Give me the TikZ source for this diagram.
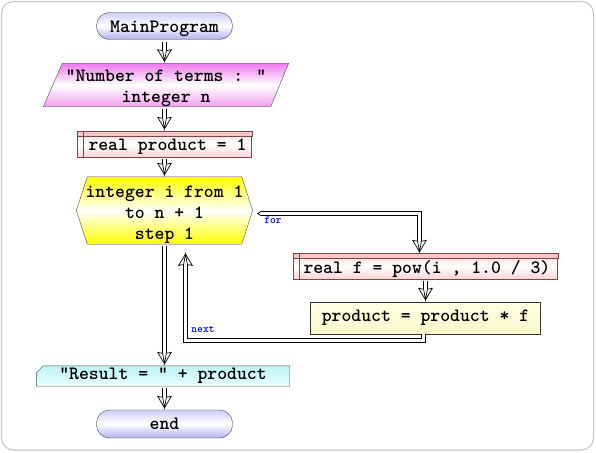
\documentclass[tikz,border=0pt]{standalone}
\usepackage{fontspec}
\usetikzlibrary{arrows.meta,calc,decorations.markings}
\pgfdeclarelayer{bg}
\pgfsetlayers{bg,main}
\definecolor{termA}{RGB}{205,205,250}
\definecolor{termB}{RGB}{175,175,240}
\definecolor{magA}{RGB}{238,120,238}
\definecolor{magB}{RGB}{240,160,240}
\definecolor{yel}{RGB}{255,255,0}
\definecolor{pinkA}{RGB}{252,212,212}
\definecolor{pinkS}{RGB}{248,196,196}
\definecolor{declB}{RGB}{130,70,70}
\definecolor{asgA}{RGB}{255,255,228}
\definecolor{asgB}{RGB}{250,250,205}
\definecolor{cyA}{RGB}{190,243,243}
\definecolor{cyB}{RGB}{232,255,255}
\definecolor{frameC}{RGB}{200,200,200}
\newcommand\mf{\ttfamily\bfseries}
\newcommand\hhead{%
  \fill[white] (-10.5pt,1.85pt) -- (-11.5pt,6.8pt) -- (0pt,0pt) -- (-11.5pt,-6.8pt) -- (-10.5pt,-1.85pt) -- cycle;
  \draw[black, line width=0.7pt, line join=miter]
    (-10.5pt,1.85pt) -- (-11.5pt,6.8pt) -- (0pt,0pt) -- (-11.5pt,-6.8pt) -- (-10.5pt,-1.85pt);
  \draw[black, line width=0.7pt] (-10.5pt,1.85pt) -- (0pt,0pt) -- (-10.5pt,-1.85pt);}
\newcommand\hcap{%
  \fill[white] (3.5pt,2.2pt) -- (0pt,0pt) -- (3.5pt,-2.2pt) -- cycle;
  \draw[black, line width=0.7pt] (3.5pt,2.2pt) -- (0pt,0pt) -- (3.5pt,-2.2pt);}
\tikzset{
  txt/.style={font=\mf\fontsize{18.8}{21}\selectfont, inner sep=0pt, align=center},
  term/.style={draw=black!75, rounded corners=13pt, top color=termA, bottom color=termB, middle color=white},
  decl/.style={draw=declB, inner sep=0pt, minimum height=26pt, top color=pinkA, bottom color=pinkA, middle color=white},
  conn/.style 2 args={
    preaction={draw=black, line width=4.4pt, line join=miter, shorten <=#1, shorten >=#2+9pt},
    postaction={draw=white, line width=3pt, line join=miter, shorten <=#1, shorten >=#2+9pt},
    postaction={decorate, decoration={markings, mark=at position -#2 with {\hhead}}}},
  capmark/.style={postaction={decorate, decoration={markings, mark=at position 0pt with {\hcap}}}},
  lbl/.style={font=\mf\fontsize{11}{11}\selectfont, text=blue, inner sep=0pt},
}
\begin{document}
\begin{tikzpicture}[x=1pt,y=-1pt]
\useasboundingbox (0,0) rectangle (596,452);
\draw[frameC, line width=1.2pt, rounded corners=12pt] (1.5,1.5) rectangle (593.5,450);

% nodes
\node[txt, term, minimum width=136pt, minimum height=27pt] (main) at (164.5,26) {\rule{0pt}{17pt}MainProgram};
\node[txt, minimum width=245pt, minimum height=40pt] (inp) at (166,85) {\rule{0pt}{18pt}"Number of terms : "\\integer n};
\node[decl, minimum width=174pt] (d1) at (164.5,144) {};
\filldraw[fill=pinkS, draw=declB] (d1.north west) rectangle ($(d1.north east)+(0,5)$);
\draw[declB] ($(d1.north west)+(6,0)$) -- ($(d1.south west)+(6,0)$);
\node[txt, anchor=west] (d1t) at ($(d1.west)+(11,3)$) {real product = 1};
\node[txt, minimum width=176pt, minimum height=61pt] (loop) at (164.5,210.5) {\rule{0pt}{21pt}integer i from 1\\to n + 1\\step 1};
\node[decl, minimum width=264pt] (d2) at (425.5,266) {};
\filldraw[fill=pinkS, draw=declB] (d2.north west) rectangle ($(d2.north east)+(0,5)$);
\draw[declB] ($(d2.north west)+(6,0)$) -- ($(d2.south west)+(6,0)$);
\node[txt, anchor=west] (d2t) at ($(d2.west)+(10,3)$) {real f = pow(i , 1.0 / 3)};
\node[txt, draw=black!80, minimum width=230pt, minimum height=32pt, top color=asgA, bottom color=asgB] (asg) at (425.5,318) {product = product * f};
\node[txt, minimum width=253pt, minimum height=20pt] (out) at (163,376) {"Result = " + product};
\node[txt, term, minimum width=136pt, minimum height=28pt] (end) at (164.5,424) {end};

\begin{pgfonlayer}{bg}
\path[draw=black!70, top color=magA, bottom color=magB, middle color=white]
  (inp.south west) -- ($(inp.north west)+(19,0)$) -- (inp.north east) -- ($(inp.south east)+(-18,0)$) -- cycle;
\path[draw=black!70, top color=yel, bottom color=yel, middle color=white]
  (loop.west) -- ($(loop.north west)+(11,0)$) -- ($(loop.north east)+(-11,0)$) -- (loop.east)
  -- ($(loop.south east)+(-11,0)$) -- ($(loop.south west)+(11,0)$) -- cycle;
\path[draw=black!70, top color=cyA, bottom color=cyB]
  (out.south west) -- ($(out.north west)+(0,7)$) -- ($(out.north west)+(7,0)$) -- (out.north east) -- (out.south east) -- cycle;
\end{pgfonlayer}

% connectors
\path[conn={2pt}{2pt}] (main.south) -- (main.south |- inp.north);
\path[conn={2pt}{2pt}] (d1.north |- inp.south) -- (d1.north);
\path[conn={2pt}{2pt}] (d1.south) -- (loop.north);
\path[conn={2pt}{2pt}] (loop.south) -- (loop.south |- out.north);
\path[conn={2pt}{2pt}] (end.north |- out.south) -- (end.north);
\path[conn={2pt}{2pt}] (d2.south) -- (asg.north);
\coordinate (forstart) at ($(loop.east)+(5,3)$);
\coordinate (forturn) at (419.5,213.5);
\path[conn={3.5pt}{1pt}, capmark] (forstart) -- (forturn) -- (forturn |- d2.north);
\coordinate (n1) at (423.5,340.5);
\coordinate (n2) at (185.5,340.5);
\coordinate (nend) at (185.5,253);
\path[conn={0pt}{1pt}] (asg.south -| n1) -- (n1) -- (n2) -- (nend);

\node[lbl] (forlbl) at (273,220) {for};
\node[lbl] (nextlbl) at (203,329) {next};
\end{tikzpicture}
\end{document}
